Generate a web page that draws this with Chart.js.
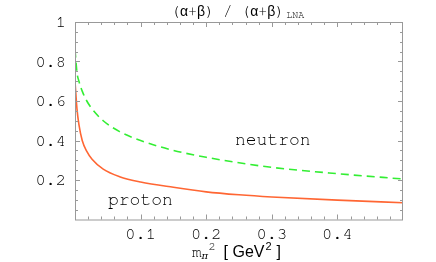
<!DOCTYPE html>
<html>
<head>
<meta charset="utf-8">
<script src="https://cdn.jsdelivr.net/npm/chart.js@4/dist/chart.umd.min.js"></script>
<style>
  html, body { margin: 0; padding: 0; background: #fff; }
  #wrap { width: 436px; height: 262px; }
</style>
</head>
<body>
<div id="wrap"><canvas id="chart" width="436" height="262"></canvas></div>
<script>
// m_pi^2 in GeV^2
const mpi2 = [0, 0.003, 0.006, 0.011, 0.018, 0.026, 0.043, 0.068, 0.1, 0.15, 0.2, 0.25, 0.3, 0.4, 0.5];
const proton = [0.70, 0.56, 0.48, 0.40, 0.345, 0.305, 0.255, 0.217, 0.19, 0.163, 0.14, 0.125, 0.114, 0.098, 0.085];
const neutron = [0.86, 0.745, 0.70, 0.65, 0.60, 0.56, 0.50, 0.445, 0.40, 0.35, 0.315, 0.287, 0.264, 0.232, 0.205];
const xTicks = [0.1, 0.2, 0.3, 0.4];
const yTicks = [0.2, 0.4, 0.6, 0.8, 1];

const mono = '"FreeMono", "Liberation Mono", monospace';
const sans = '"Liberation Sans", "DejaVu Sans", sans-serif';

function toPoints(xs, ys) {
    return xs.map((x, i) => ({ x: x, y: ys[i] }));
}

// frame with inward ticks on all four sides, plus curve labels and titles
const framePlugin = {
    id: 'frame',
    afterDraw(chart) {
        const ctx = chart.ctx;
        const a = chart.chartArea;
        const xs = chart.scales.x;
        const ys = chart.scales.y;
        ctx.save();
        ctx.strokeStyle = '#999';
        ctx.lineWidth = 1;
        ctx.strokeRect(a.left + 0.5, a.top + 0.5, a.right - a.left - 1, a.bottom - a.top);
        ctx.beginPath();
        for (let i = 1; i < 25; i++) {
            const v = i * 0.02;
            const px = Math.round(xs.getPixelForValue(v)) + 0.5;
            const len = (i % 5 === 0) ? 5 : 3;
            ctx.moveTo(px, a.bottom); ctx.lineTo(px, a.bottom - len);
            ctx.moveTo(px, a.top); ctx.lineTo(px, a.top + len);
        }
        for (let i = 1; i < 20; i++) {
            const v = i * 0.05;
            const py = Math.round(ys.getPixelForValue(v)) + 0.5;
            const len = (i % 4 === 0) ? 5 : 3;
            ctx.moveTo(a.left, py); ctx.lineTo(a.left + len, py);
            ctx.moveTo(a.right, py); ctx.lineTo(a.right - len, py);
        }
        ctx.stroke();

        ctx.fillStyle = '#000';
        ctx.textBaseline = 'alphabetic';
        ctx.textAlign = 'left';
        ctx.font = '18px ' + mono;
        ctx.fillText('neutron', 235, 145);
        ctx.fillText('proton', 108, 205);

        // title: (α+β) / (α+β)_LNA
        let x = 171, y = 16;
        const big = '15px ' + mono;
        const sym = '14px ' + sans;
        const parts = [
            ['(', big], ['α', sym], ['+', big], ['β', sym], [') / (', big],
            ['α', sym], ['+', big], ['β', sym], [')', big]
        ];
        for (const [t, f] of parts) {
            ctx.font = f;
            ctx.fillText(t, x, y);
            x += ctx.measureText(t).width;
        }
        ctx.font = '10px ' + mono;
        ctx.fillText('LNA', x + 2, y + 2);

        // x axis label: m_π^2 [GeV^2]
        x = 192; y = 257;
        ctx.font = '16px ' + mono;
        ctx.fillText('m', x, y); x += ctx.measureText('m').width;
        ctx.font = 'italic 10px "DejaVu Serif", serif';
        ctx.fillText('π', x, y + 2);
        ctx.font = '12px ' + mono;
        ctx.fillText('2', x + 7, y - 7); x += 22;
        ctx.font = '16px ' + sans;
        ctx.fillText('[ GeV', x, y); x += ctx.measureText('[ GeV').width;
        ctx.font = '11px ' + sans;
        ctx.fillText('2', x + 1, y - 7); x += 12;
        ctx.font = '16px ' + sans;
        ctx.fillText(']', x, y);
        ctx.restore();
    }
};

new Chart(document.getElementById('chart'), {
    type: 'line',
    data: {
        datasets: [
            {
                label: 'proton',
                data: toPoints(mpi2, proton),
                borderColor: '#ff6633',
                borderWidth: 1.6,
                pointRadius: 0,
                cubicInterpolationMode: 'monotone'
            },
            {
                label: 'neutron',
                data: toPoints(mpi2, neutron),
                borderColor: '#33ee33',
                borderWidth: 1.6,
                borderDash: [8, 5],
                pointRadius: 0,
                cubicInterpolationMode: 'monotone'
            }
        ]
    },
    options: {
        responsive: false,
        animation: false,
        maintainAspectRatio: false,
        layout: { padding: { left: 0, right: 33, top: 22, bottom: 0 } },
        plugins: { legend: { display: false }, tooltip: { enabled: false }, title: { display: false } },
        scales: {
            x: {
                type: 'linear', min: 0, max: 0.5,
                afterFit(s) { s.height = 42.5; },
                afterBuildTicks(s) { s.ticks = xTicks.map(v => ({ value: v })); },
                grid: { display: false, drawTicks: false },
                border: { display: false },
                ticks: {
                    padding: 4, color: '#000', maxRotation: 0, autoSkip: false,
                    font: { family: mono, size: 17 },
                    callback: v => v.toFixed(1)
                }
            },
            y: {
                min: 0, max: 1,
                afterFit(s) { s.width = 75; },
                afterBuildTicks(s) { s.ticks = yTicks.map(v => ({ value: v })); },
                grid: { display: false, drawTicks: false },
                border: { display: false },
                ticks: {
                    padding: 9, color: '#000', autoSkip: false,
                    font: { family: mono, size: 17 },
                    callback: v => (v === 1 ? '1' : v.toFixed(1))
                }
            }
        }
    },
    plugins: [framePlugin]
});
</script>
</body>
</html>
